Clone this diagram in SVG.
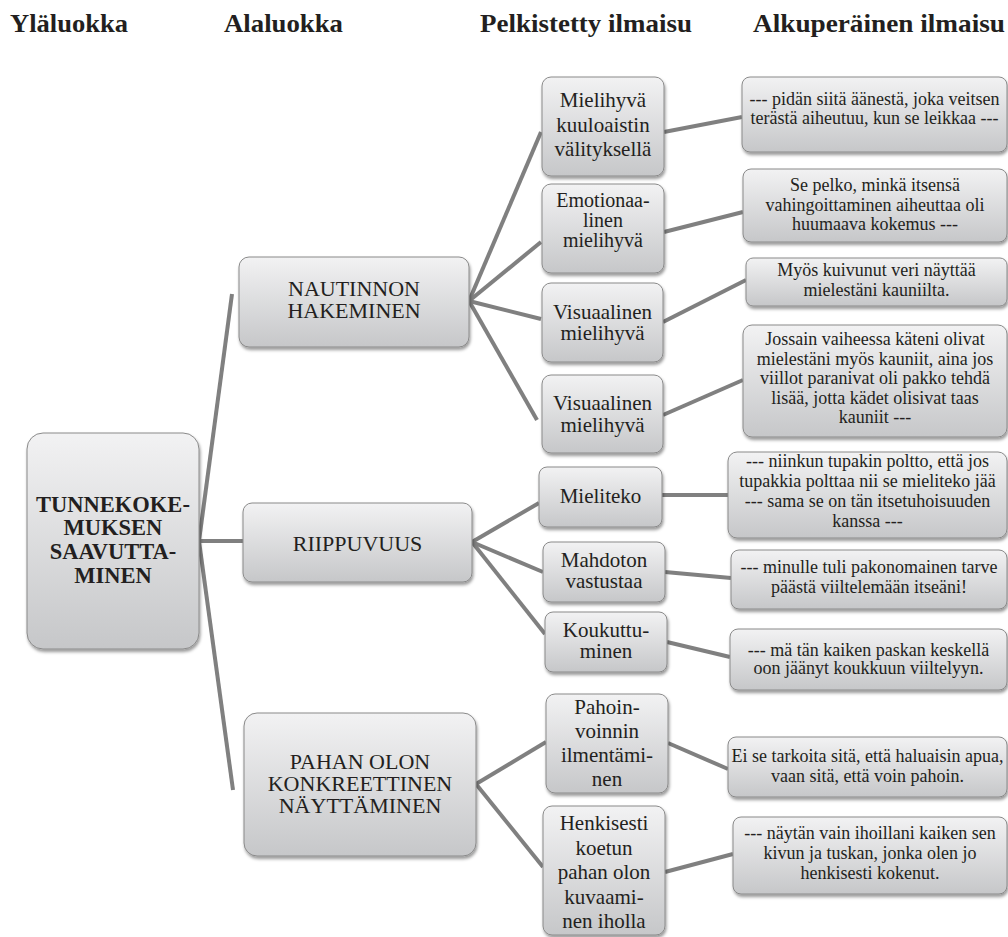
<svg xmlns="http://www.w3.org/2000/svg" width="1008" height="937" viewBox="0 0 1008 937" font-family="Liberation Serif, DejaVu Serif, serif">
<style>
text{font-family:'Liberation Serif','DejaVu Serif',serif;fill:#231f20}
.hd{font-weight:bold;font-size:26px}
.box{fill:url(#g);stroke:#8a8a8a;stroke-width:1;filter:url(#sh)}
.t1{font-weight:bold;font-size:22.5px;text-anchor:middle}
.t2{font-size:22px;text-anchor:middle}
.t3{font-size:21px;text-anchor:middle}
.t3s{font-size:20px;text-anchor:middle}
.t4{font-size:18px;text-anchor:middle}
.c line{stroke:#808080;stroke-width:4}
</style>
<defs>
<linearGradient id="g" x1="0" y1="0" x2="0" y2="1">
<stop offset="0" stop-color="#f2f2f3"/>
<stop offset="1" stop-color="#c6c7c9"/>
</linearGradient>
<filter id="sh" x="-10%" y="-10%" width="120%" height="130%">
<feDropShadow dx="1" dy="2.5" stdDeviation="1.6" flood-color="#000" flood-opacity="0.4"/>
</filter>
</defs>
<rect width="1008" height="937" fill="#fff"/>
<g id="headers">
<text class="hd" x="10" y="32" textLength="118" lengthAdjust="spacingAndGlyphs">Yläluokka</text>
<text class="hd" x="224" y="32" textLength="119" lengthAdjust="spacingAndGlyphs">Alaluokka</text>
<text class="hd" x="480" y="32" textLength="212" lengthAdjust="spacingAndGlyphs">Pelkistetty ilmaisu</text>
<text class="hd" x="753" y="32" textLength="252" lengthAdjust="spacingAndGlyphs">Alkuperäinen ilmaisu</text>
</g>
<g id="connectors" class="c">
<line x1="199" y1="541" x2="232" y2="294"/>
<line x1="199" y1="541" x2="243" y2="541"/>
<line x1="199" y1="541" x2="233" y2="790"/>
<line x1="469" y1="301" x2="541" y2="132"/>
<line x1="469" y1="301" x2="541" y2="242"/>
<line x1="469" y1="301" x2="541" y2="319"/>
<line x1="469" y1="301" x2="537" y2="420"/>
<line x1="472" y1="542" x2="539" y2="503"/>
<line x1="472" y1="542" x2="543" y2="572"/>
<line x1="472" y1="542" x2="545" y2="634"/>
<line x1="476" y1="784" x2="546" y2="742"/>
<line x1="476" y1="784" x2="543" y2="867"/>
<line x1="664" y1="132" x2="742" y2="117"/>
<line x1="664" y1="232" x2="743" y2="212"/>
<line x1="663" y1="322" x2="746" y2="280"/>
<line x1="663" y1="415" x2="743" y2="380"/>
<line x1="662" y1="495" x2="728" y2="495"/>
<line x1="665" y1="572" x2="731" y2="578"/>
<line x1="667" y1="642" x2="730" y2="657"/>
<line x1="668" y1="743" x2="728" y2="769"/>
<line x1="665" y1="872" x2="733" y2="854"/>
</g>
<g id="root">
<rect class="box" x="27" y="433" width="172" height="216" rx="16"/>
<text class="t1" x="113" y="511.5">TUNNEKOKE-</text>
<text class="t1" x="113" y="535">MUKSEN</text>
<text class="t1" x="113" y="559">SAAVUTTA-</text>
<text class="t1" x="113" y="583">MINEN</text>
</g>
<g id="nautinnon">
<rect class="box" x="239" y="257" width="230" height="90" rx="10"/>
<text class="t2" x="354" y="296">NAUTINNON</text>
<text class="t2" x="354" y="318">HAKEMINEN</text>
</g>
<g id="riippuvuus">
<rect class="box" x="243" y="503" width="229" height="79" rx="9"/>
<text class="t2" x="357.5" y="551">RIIPPUVUUS</text>
</g>
<g id="pahan">
<rect class="box" x="244" y="713" width="232" height="143" rx="13"/>
<text class="t2" x="360" y="769">PAHAN OLON</text>
<text class="t2" x="360" y="791">KONKREETTINEN</text>
<text class="t2" x="360" y="813">NÄYTTÄMINEN</text>
</g>
<g id="n-kuulo">
<rect class="box" x="542" y="77" width="122" height="99" rx="9"/>
<text class="t3" x="603" y="107">Mielihyvä</text>
<text class="t3" x="603" y="132">kuuloaistin</text>
<text class="t3" x="603" y="156">välityksellä</text>
</g>
<g id="n-emo">
<rect class="box" x="542" y="184" width="122" height="89" rx="9"/>
<text class="t3s" x="603" y="207">Emotionaa-</text>
<text class="t3s" x="603" y="227">linen</text>
<text class="t3s" x="603" y="247">mielihyvä</text>
</g>
<g id="n-vis1">
<rect class="box" x="542" y="283" width="121" height="79" rx="9"/>
<text class="t3" x="602.5" y="319">Visuaalinen</text>
<text class="t3" x="602.5" y="340">mielihyvä</text>
</g>
<g id="n-vis2">
<rect class="box" x="542" y="375" width="121" height="78" rx="9"/>
<text class="t3" x="602.5" y="410">Visuaalinen</text>
<text class="t3" x="602.5" y="432">mielihyvä</text>
</g>
<g id="n-mieliteko">
<rect class="box" x="539" y="467" width="123" height="60" rx="8"/>
<text class="t3" x="600.5" y="503">Mieliteko</text>
</g>
<g id="n-mahdoton">
<rect class="box" x="543" y="542" width="122" height="60" rx="8"/>
<text class="t3" x="604" y="567">Mahdoton</text>
<text class="t3" x="604" y="588">vastustaa</text>
</g>
<g id="n-koukku">
<rect class="box" x="545" y="612" width="122" height="60" rx="8"/>
<text class="t3" x="606" y="637">Koukuttu-</text>
<text class="t3" x="606" y="658">minen</text>
</g>
<g id="n-pahoin">
<rect class="box" x="546" y="694" width="122" height="99" rx="9"/>
<text class="t3" x="607" y="714">Pahoin-</text>
<text class="t3" x="607" y="738">voinnin</text>
<text class="t3" x="607" y="762">ilmentämi-</text>
<text class="t3" x="607" y="786">nen</text>
</g>
<g id="n-henk">
<rect class="box" x="543" y="806" width="122" height="129" rx="9"/>
<text class="t3" x="604" y="830">Henkisesti</text>
<text class="t3" x="604" y="854.5">koetun</text>
<text class="t3" x="604" y="879">pahan olon</text>
<text class="t3" x="604" y="903.5">kuvaami-</text>
<text class="t3" x="604" y="928">nen iholla</text>
</g>
<g id="q-a">
<rect class="box" x="742" y="77" width="265" height="75" rx="8"/>
<text class="t4" x="874.5" y="105">--- pidän siitä äänestä, joka veitsen</text>
<text class="t4" x="874.5" y="124">terästä aiheutuu, kun se leikkaa ---</text>
</g>
<g id="q-b">
<rect class="box" x="743" y="169" width="264" height="73" rx="8"/>
<text class="t4" x="875" y="191">Se pelko, minkä itsensä</text>
<text class="t4" x="875" y="211">vahingoittaminen aiheuttaa oli</text>
<text class="t4" x="875" y="230">huumaava kokemus ---</text>
</g>
<g id="q-c">
<rect class="box" x="746" y="258" width="261" height="48" rx="7"/>
<text class="t4" x="876.5" y="276">Myös kuivunut veri näyttää</text>
<text class="t4" x="876.5" y="296">mielestäni kauniilta.</text>
</g>
<g id="q-d">
<rect class="box" x="743" y="325" width="264" height="112" rx="9"/>
<text class="t4" x="875" y="345">Jossain vaiheessa käteni olivat</text>
<text class="t4" x="875" y="364.5">mielestäni myös kauniit, aina jos</text>
<text class="t4" x="875" y="384">viillot paranivat oli pakko tehdä</text>
<text class="t4" x="875" y="403.5">lisää, jotta kädet olisivat taas</text>
<text class="t4" x="875" y="423">kauniit ---</text>
</g>
<g id="q-e">
<rect class="box" x="728" y="452" width="279" height="86" rx="9"/>
<text class="t4" x="867.5" y="467">--- niinkun tupakin poltto, että jos</text>
<text class="t4" x="867.5" y="487">tupakkia polttaa nii se mieliteko jää</text>
<text class="t4" x="867.5" y="507">--- sama se on tän itsetuhoisuuden</text>
<text class="t4" x="867.5" y="527">kanssa ---</text>
</g>
<g id="q-f">
<rect class="box" x="731" y="550" width="276" height="59" rx="8"/>
<text class="t4" x="869" y="573">--- minulle tuli pakonomainen tarve</text>
<text class="t4" x="869" y="593">päästä viiltelemään itseäni!</text>
</g>
<g id="q-g">
<rect class="box" x="730" y="629" width="277" height="61" rx="8"/>
<text class="t4" x="868.5" y="656">--- mä tän kaiken paskan keskellä</text>
<text class="t4" x="868.5" y="674">oon jäänyt koukkuun viiltelyyn.</text>
</g>
<g id="q-h">
<rect class="box" x="728" y="737" width="279" height="60" rx="8"/>
<text class="t4" x="867.5" y="762">Ei se tarkoita sitä, että haluaisin apua,</text>
<text class="t4" x="867.5" y="782">vaan sitä, että voin pahoin.</text>
</g>
<g id="q-i">
<rect class="box" x="733" y="817" width="274" height="77" rx="8"/>
<text class="t4" x="870" y="839">--- näytän vain ihoillani kaiken sen</text>
<text class="t4" x="870" y="859">kivun ja tuskan, jonka olen jo</text>
<text class="t4" x="870" y="879">henkisesti kokenut.</text>
</g>
</svg>
